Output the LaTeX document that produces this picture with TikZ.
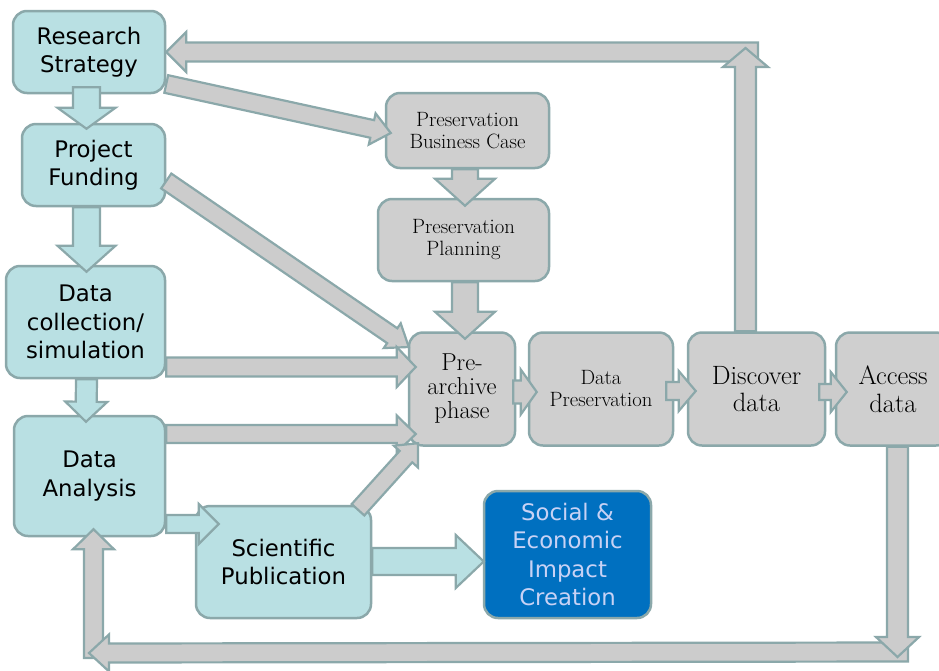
\documentclass[tikz,border=0pt]{standalone}
\usepackage{fontspec}
\newfontfamily\sansf{DejaVu Sans}
\usetikzlibrary{calc}
\definecolor{tealfill}{RGB}{185,224,227}
\definecolor{edgec}{RGB}{139,168,170}
\definecolor{grayfill}{RGB}{207,207,207}
\definecolor{arrowgray}{RGB}{204,204,204}
\definecolor{socialblue}{RGB}{0,112,192}
\definecolor{socialtext}{RGB}{200,210,245}
% block arrow: [style]{from}{to}{shaft half width}{head half width}{head length}
\newcommand{\barrow}[6][]{%
  \coordinate (bas) at (#2);
  \coordinate (bat) at (#3);
  \coordinate (bah) at ($(bat)!#6!(bas)$);
  \draw[#1] ($(bas)!#4!-90:(bat)$) -- ($(bah)!#4!-90:(bat)$) -- ($(bah)!#5!-90:(bat)$) -- (bat)
     -- ($(bah)!#5!90:(bat)$) -- ($(bah)!#4!90:(bat)$) -- ($(bas)!#4!90:(bat)$) -- cycle;
}
\tikzset{
  box/.style={rectangle, rounded corners=14pt, draw=edgec, line width=2.5pt, align=center, inner sep=0pt},
  tealbox/.style={box, fill=tealfill, font=\sansf\fontsize{22.8}{28.5}\selectfont},
  graybox/.style={box, fill=grayfill},
  bluebox/.style={box, fill=socialblue, text=socialtext, font=\sansf\fontsize{22.8}{28.5}\selectfont},
  smallserif/.style={font=\fontsize{20.7}{22}\selectfont},
  bigserif/.style={font=\fontsize{26.5}{27.5}\selectfont},
  tealarr/.style={fill=tealfill, draw=edgec, line width=2.2pt, line join=miter},
  grayarr/.style={fill=arrowgray, draw=edgec, line width=2.2pt, line join=miter},
}
\begin{document}
\begin{tikzpicture}[x=1pt, y=-1pt]
\useasboundingbox (0,0) rectangle (939,670);
\clip (0,0) rectangle (939,670);
\fill[white] (0,0) rectangle (939,670);

% nodes
\node[tealbox, minimum width=152pt, minimum height=82pt] (rs) at (89,52) {Research\\Strategy};
\node[tealbox, minimum width=143pt, minimum height=82pt] (pf) at (93.5,165) {Project\\Funding};
\node[tealbox, minimum width=159pt, minimum height=112pt] (dc) at (85.5,322) {Data\\collection/\\simulation};
\node[tealbox, minimum width=151pt, minimum height=120pt] (da) at (89.5,476) {Data\\Analysis};
\node[tealbox, minimum width=175pt, minimum height=112pt] (sp) at (283.5,562) {Scientific\\Publication};
\node[bluebox, minimum width=167pt, minimum height=127pt] (se) at (567.5,554.5) {Social \&\\Economic\\Impact\\Creation};
\node[graybox, smallserif, minimum width=163pt, minimum height=75pt] (bc) at (467.5,130.5) {Preservation\\Business Case};
\node[graybox, smallserif, minimum width=171pt, minimum height=82pt] (pp) at (463.5,240) {Preservation\\Planning};
\node[graybox, font=\fontsize{24.5}{24}\selectfont, minimum width=106pt, minimum height=113pt] (pa) at (462,389) {Pre-\\archive\\phase};
\node[graybox, smallserif, minimum width=144pt, minimum height=113pt] (dp) at (601,389) {Data\\Preservation};
\node[graybox, bigserif, minimum width=137pt, minimum height=113pt] (dd) at (756.5,389) {Discover\\data};
\node[graybox, bigserif, minimum width=114pt, minimum height=113pt] (ad) at (893,389) {Access\\data};

% loop corners
\coordinate (tr) at (745.5,52);
\coordinate (br) at (897.5,652);
\coordinate (bl) at (93.5,652);

% teal arrows
\barrow[tealarr]{[shift={(-2.5,-7)}]rs.south}{[shift={(-7,6)}]pf.north}{13.5pt}{29pt}{21pt}
\barrow[tealarr]{[shift={(-7,0)}]pf.south}{[shift={(1,7)}]dc.north}{13.5pt}{29pt}{26pt}
\barrow[tealarr]{[shift={(1,0)}]dc.south}{[shift={(-3.5,7)}]da.north}{10.5pt}{21pt}{20pt}
\barrow[tealarr]{[shift={(0,48)}]da.east}{[shift={(24,-38)}]sp.west}{9pt}{20pt}{20pt}
\barrow[tealarr]{[shift={(0,-0.5)}]sp.east}{[shift={(1,7)}]se.west}{13.5pt}{26.5pt}{28pt}

% gray arrows
\barrow[grayarr]{[shift={(0,32)}]rs.east}{[shift={(6,2.5)}]bc.west}{9pt}{16pt}{19pt}
\barrow[grayarr]{[shift={(0,16)}]pf.east}{[shift={(1,-42)}]pa.west}{9pt}{15pt}{20pt}
\barrow[grayarr]{[shift={(0,45)}]dc.east}{[shift={(8,-22)}]pa.west}{9.5pt}{20pt}{19pt}
\barrow[grayarr]{[shift={(0,-42)}]da.east}{[shift={(8,45)}]pa.west}{9pt}{18.5pt}{19pt}
\barrow[grayarr]{[shift={(74.5,5)}]sp.north}{[shift={(-44,-3.5)}]pa.south}{8.5pt}{16.3pt}{18pt}
\barrow[grayarr]{[shift={(-2.5,0)}]bc.south}{[shift={(1.5,8)}]pp.north}{13pt}{30pt}{27pt}
\barrow[grayarr]{[shift={(1.5,0)}]pp.south}{[shift={(3,7.5)}]pa.north}{13pt}{30pt}{27pt}
\barrow[grayarr]{[shift={(-3,3)}]pa.east}{[shift={(9,3)}]dp.west}{11.5pt}{22.5pt}{16pt}
\barrow[grayarr]{[shift={(-8,2)}]dp.east}{[shift={(9,2)}]dd.west}{9pt}{20pt}{17pt}
\barrow[grayarr]{[shift={(-7,3)}]dd.east}{[shift={(12,3)}]ad.west}{8pt}{20pt}{16pt}

% top loop
\barrow[grayarr]{[shift={(12.5,0)}]tr}{rs.east}{9.5pt}{20pt}{20pt}
\barrow[grayarr]{[shift={(-11,0)}]dd.north}{[shift={(0,-4)}]tr}{10.5pt}{22.5pt}{19pt}

% bottom loop
\barrow[grayarr]{[shift={(0,6)}]bl}{[shift={(4,-8)}]da.south}{9.5pt}{20.5pt}{20pt}
\barrow[grayarr]{[shift={(10.5,0)}]br}{[shift={(-4.5,1)}]bl}{9.5pt}{18.5pt}{20pt}
\barrow[grayarr]{[shift={(4.5,0)}]ad.south}{[shift={(0,5)}]br}{10.5pt}{21.5pt}{20pt}
\end{tikzpicture}
\end{document}
